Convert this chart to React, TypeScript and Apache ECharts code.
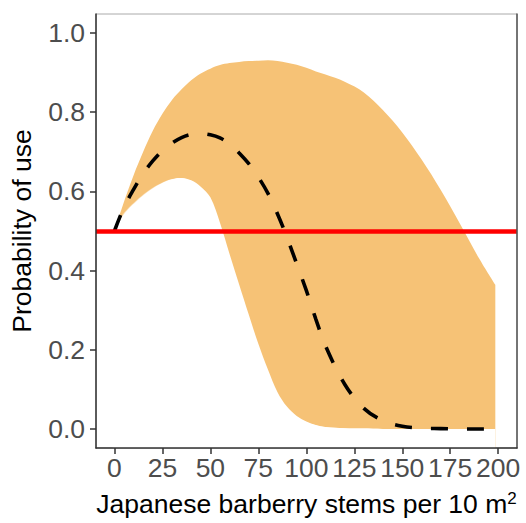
import React, { useEffect, useRef } from "react";
import * as echarts from "echarts";

const xs = [0, 5, 10, 15, 20, 25, 30, 35, 40, 45, 50, 55, 60, 65, 70, 75, 80, 85, 90, 95, 100, 105, 110, 120, 130, 140, 150, 160, 170, 180, 190, 198.5];
const lower = [0.5, 0.539, 0.566, 0.588, 0.606, 0.62, 0.63, 0.634, 0.628, 0.612, 0.585, 0.521, 0.442, 0.365, 0.289, 0.215, 0.15, 0.093, 0.056, 0.033, 0.019, 0.01, 0.005, 0.002, 0.001, 0, 0, 0, 0, 0, 0, 0];
const upper = [0.5, 0.574, 0.641, 0.7, 0.753, 0.796, 0.831, 0.858, 0.881, 0.898, 0.91, 0.919, 0.924, 0.927, 0.929, 0.93, 0.931, 0.929, 0.925, 0.92, 0.912, 0.903, 0.895, 0.877, 0.85, 0.805, 0.749, 0.681, 0.604, 0.519, 0.431, 0.364];
const fit = [0.5, 0.56, 0.605, 0.645, 0.677, 0.703, 0.722, 0.736, 0.744, 0.746, 0.743, 0.735, 0.72, 0.697, 0.67, 0.636, 0.595, 0.543, 0.483, 0.417, 0.35, 0.277, 0.21, 0.113, 0.052, 0.021, 0.007, 0.002, 0.001, 0, 0, 0];
const threshold = 0.5;
const xTicks = [0, 25, 50, 75, 100, 125, 150, 175, 200];
const yTicks = [0, 0.2, 0.4, 0.6, 0.8, 1.0];

export default function App() {
  const ref = useRef<HTMLDivElement>(null);
  useEffect(() => {
    if (!ref.current) return;
    const chart = echarts.init(ref.current, null, { renderer: "svg" });
    const font = "Liberation Sans, Arial, sans-serif";
    chart.setOption({
      animation: false,
      grid: {
        left: 91,
        right: 9,
        top: 14,
        bottom: 75,
        show: true,
        borderColor: "#aaaaaa",
        borderWidth: 1,
      },
      xAxis: {
        type: "value",
        min: -9.6,
        max: 209.8,
        z: 10,
        name: "Japanese barberry stems per 10 m{sup|2}",
        nameLocation: "middle",
        nameGap: 42,
        nameTextStyle: {
          fontFamily: font,
          fontSize: 26.5,
          color: "#000",
          rich: { sup: { fontFamily: font, fontSize: 17, verticalAlign: "top", color: "#000" } },
        },
        axisLine: { show: true, onZero: false, lineStyle: { color: "#333", width: 1.5 } },
        axisTick: { show: true, length: 6, customValues: xTicks, lineStyle: { color: "#333", width: 1.5 } },
        axisLabel: { customValues: xTicks, margin: 6, fontFamily: font, fontSize: 26.5, color: "#4d4d4d" },
        splitLine: { show: false },
      },
      yAxis: [
        {
          type: "value",
          min: -0.048,
          max: 1.048,
          z: 10,
          name: "Probability of use",
          nameLocation: "middle",
          nameGap: 61,
          nameTextStyle: { fontFamily: font, fontSize: 26.5, color: "#000" },
          axisLine: { show: true, onZero: false, lineStyle: { color: "#333", width: 1.5 } },
          axisTick: { show: true, length: 6, customValues: yTicks, lineStyle: { color: "#333", width: 1.5 } },
          axisLabel: {
            customValues: yTicks,
            margin: 11,
            fontFamily: font,
            fontSize: 26.5,
            color: "#4d4d4d",
            formatter: (v: number) => v.toFixed(1),
          },
          splitLine: { show: false },
        },
        {
          type: "value",
          position: "right",
          min: -0.048,
          max: 1.048,
          z: 10,
          axisLine: { show: true, onZero: false, lineStyle: { color: "#555", width: 1.5 } },
          axisTick: { show: false },
          axisLabel: { show: false },
          splitLine: { show: false },
        },
      ],
      series: [
        {
          type: "line",
          name: "upper",
          data: xs.map((x, i) => [x, upper[i]]),
          symbol: "none",
          smooth: 0.35,
          lineStyle: { width: 0, opacity: 0 },
          areaStyle: { color: "#F6C276", opacity: 1, origin: "start" },
          z: 1,
        },
        {
          type: "line",
          name: "lower",
          data: xs.map((x, i) => [x, lower[i]]),
          symbol: "none",
          smooth: 0.35,
          lineStyle: { width: 0, opacity: 0 },
          areaStyle: {
            color: "#ffffff",
            opacity: 1,
            origin: "start",
            shadowColor: "#ffffff",
            shadowBlur: 0,
            shadowOffsetX: -1.5,
          },
          z: 2,
        },
        {
          type: "line",
          name: "threshold",
          data: [],
          symbol: "none",
          z: 3,
          markLine: {
            silent: true,
            symbol: "none",
            label: { show: false },
            lineStyle: { color: "#ff0000", width: 4.5, type: "solid" },
            data: [{ yAxis: threshold }],
          },
        },
        {
          type: "line",
          name: "fit",
          data: xs.map((x, i) => [x, fit[i]]),
          symbol: "none",
          smooth: 0.35,
          lineStyle: { color: "#000", width: 3.6, type: [17, 19], cap: "butt" },
          z: 4,
        },
      ],
    });
    return () => chart.dispose();
  }, []);
  return <div ref={ref} style={{ width: 526, height: 523, position: "absolute", left: 0, top: 0 }} />;
}
